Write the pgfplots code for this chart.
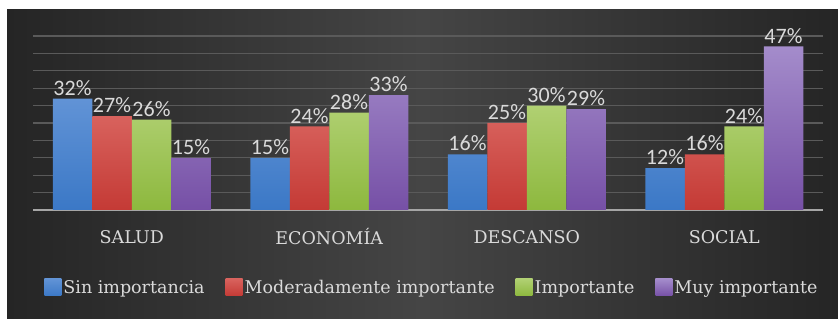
\documentclass[border=0pt]{standalone}
\usepackage{pgfplots}
\pgfplotsset{compat=1.18}
\usepackage{fontspec}
\setmainfont{DejaVu Serif}
\newfontfamily\lblfont{Carlito}
\definecolor{bgD}{HTML}{252525}
\definecolor{bgL}{HTML}{454545}
\definecolor{txt}{HTML}{DADADA}
\definecolor{gridc}{HTML}{5A5A5A}
\definecolor{baseC}{HTML}{A6A6A6}
\definecolor{blueT}{HTML}{6193D6}
\definecolor{blueB}{HTML}{3B78C6}
\definecolor{redT}{HTML}{D8625D}
\definecolor{redB}{HTML}{C43A35}
\definecolor{greenT}{HTML}{B0D072}
\definecolor{greenB}{HTML}{8DB83E}
\definecolor{purpT}{HTML}{A48CCB}
\definecolor{purpB}{HTML}{7650A6}
\begin{document}
\begin{tikzpicture}
\path[use as bounding box] (0,0) rectangle (838bp,319bp);
\fill[white] (0,0) rectangle (838bp,319bp);
\shade[left color=bgD, right color=bgD, middle color=bgL] (7bp,0bp) rectangle (838bp,309bp);
\begin{axis}[
  at={(33bp,109bp)}, anchor=south west,
  scale only axis, width=790bp, height=174bp,
  xmin=-0.5, xmax=3.5, ymin=0, ymax=50,
  ybar=0pt, bar width=0.2,
  xtick={0,1,2,3},
  xticklabels={SALUD,ECONOMÍA,DESCANSO,SOCIAL},
  ytick={0,5,...,50}, yticklabels={},
  ymajorgrids, major grid style={draw=gridc, line width=1.1bp},
  axis x line*=bottom, axis y line*=left,
  x axis line style={-, draw=baseC, line width=1.6bp},
  y axis line style={draw=none},
  major tick length=0pt,
  xticklabel style={font=\fontsize{17.5bp}{20bp}\selectfont, text=txt, anchor=center, yshift=-27bp},
  nodes near coords={\pgfmathprintnumber[assume math mode=true]{\pgfplotspointmeta}\%},
  nodes near coords style={font=\lblfont\fontsize{22bp}{24bp}\selectfont, text=txt, anchor=south, inner sep=0pt, yshift=3bp},
  legend columns=4,
  legend style={at={(0.505,-0.448)}, anchor=center, draw=none, fill=none,
    font=\fontsize{17.5bp}{20bp}\selectfont, text=txt,
    /tikz/every even column/.append style={column sep=19bp}},
  legend image code/.code={\fill[#1] (0bp,-8bp) rectangle (17bp,9bp);},
  clip=false,
]
\addplot[draw=none, top color=blueT, bottom color=blueB] coordinates {(0,32) (1,15) (2,16) (3,12)};
\addplot[draw=none, top color=redT, bottom color=redB] coordinates {(0,27) (1,24) (2,25) (3,16)};
\addplot[draw=none, top color=greenT, bottom color=greenB] coordinates {(0,26) (1,28) (2,30) (3,24)};
\addplot[draw=none, top color=purpT, bottom color=purpB] coordinates {(0,15) (1,33) (2,29) (3,47)};
\legend{Sin importancia, Moderadamente importante, Importante, Muy importante}
\end{axis}
\end{tikzpicture}
\end{document}
